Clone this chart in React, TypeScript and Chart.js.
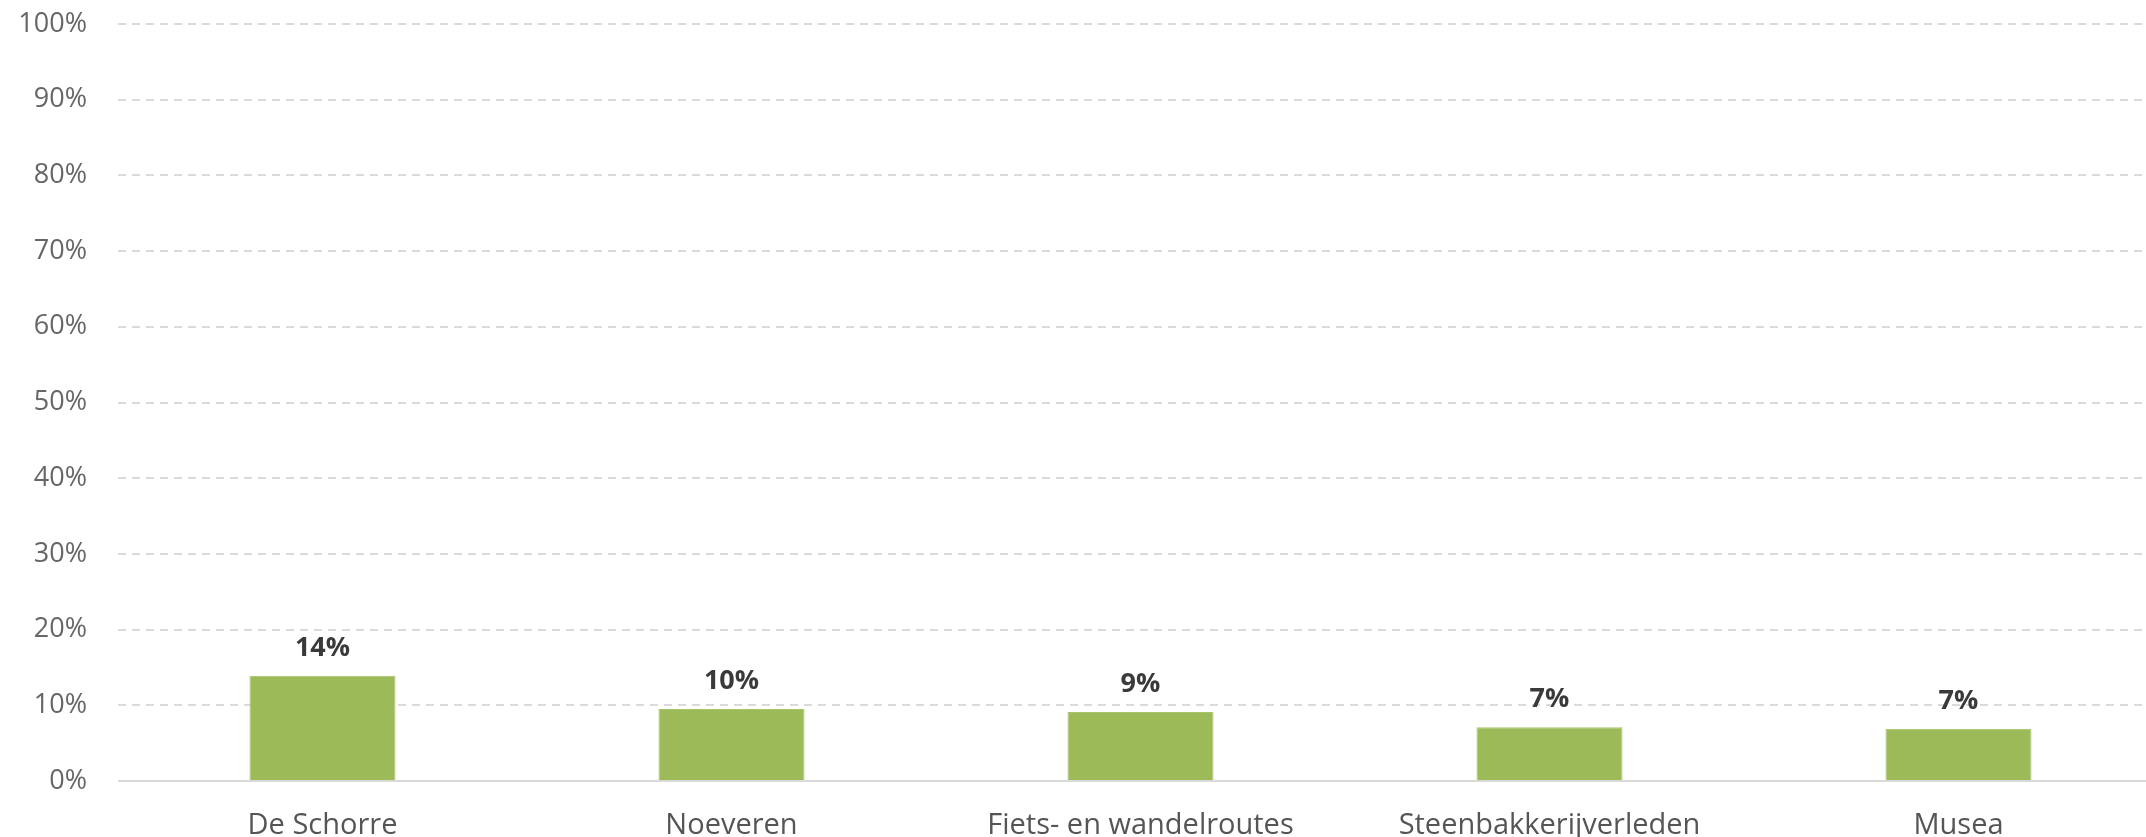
import React, { useEffect, useRef } from "react";
import { Chart, registerables } from "chart.js";

Chart.register(...registerables);

const categories: string[] = [
  "De Schorre",
  "Noeveren",
  "Fiets- en wandelroutes",
  "Steenbakkerijverleden",
  "Musea",
];
const values: number[] = [13.9, 9.5, 9.1, 7.1, 6.9];
const yTicks: number[] = [0, 10, 20, 30, 40, 50, 60, 70, 80, 90, 100];

const FONT = "'Open Sans', sans-serif";
const CANVAS_W = 2163;
const CANVAS_H = 837;

const valueLabels = {
  id: "valueLabels",
  afterDatasetsDraw(chart: any) {
    const ctx = chart.ctx;
    const meta = chart.getDatasetMeta(0);
    ctx.save();
    ctx.font = `bold 27px ${FONT}`;
    ctx.fillStyle = "#3a3a3a";
    ctx.textAlign = "center";
    ctx.textBaseline = "alphabetic";
    meta.data.forEach((bar: any, i: number) => {
      const v = values[i];
      ctx.fillText(`${Math.round(v)}%`, bar.x, bar.y - 20);
    });
    ctx.restore();
  },
};

export default function App() {
  const ref = useRef<HTMLCanvasElement | null>(null);
  useEffect(() => {
    if (!ref.current) return;
    const chart = new Chart(ref.current, {
      type: "bar",
      data: {
        labels: categories,
        datasets: [
          {
            data: values,
            backgroundColor: "#9cbb58",
            borderColor: "#a6c46a",
            borderWidth: 1,
            barPercentage: 0.357,
            categoryPercentage: 1,
          },
        ],
      },
      options: {
        responsive: false,
        animation: false,
        devicePixelRatio: 1,
        layout: { padding: { top: 24, right: 0, bottom: 0, left: 0 } },
        plugins: {
          legend: { display: false },
          tooltip: { enabled: false },
        },
        scales: {
          x: {
            grid: { display: false, drawTicks: false },
            border: { display: false },
            ticks: {
              color: "#555555",
              font: { family: FONT, size: 29 },
              padding: 27,
              maxRotation: 0,
              autoSkip: false,
            },
            afterFit: (scale: any) => {
              scale.height = 56;
              scale.paddingLeft = 0;
              scale.paddingRight = 0;
            },
          },
          y: {
            min: 0,
            max: 100,
            afterBuildTicks: (scale: any) => {
              scale.ticks = yTicks.map((v) => ({ value: v }));
            },
            grid: {
              color: "#dadada",
              lineWidth: 2,
              drawTicks: false,
            },
            border: {
              display: false,
              dash: (c: any) => (c.tick && c.tick.value === 0 ? [] : [8, 6]),
            },
            ticks: {
              color: "#666666",
              font: { family: FONT, size: 27 },
              padding: 31,
              callback: (v: any) => `${v}%`,
            },
            afterFit: (scale: any) => {
              scale.width = 118;
              scale.paddingTop = 0;
              scale.paddingBottom = 0;
            },
          },
        },
      },
      plugins: [valueLabels],
    });
    return () => chart.destroy();
  }, []);

  return (
    <div
      style={{
        position: "fixed",
        left: 0,
        top: 0,
        width: 2146,
        height: 837,
        overflow: "hidden",
        background: "#ffffff",
      }}
    >
      <canvas
        ref={ref}
        width={CANVAS_W}
        height={CANVAS_H}
        style={{ display: "block", width: CANVAS_W, height: CANVAS_H }}
      />
    </div>
  );
}
